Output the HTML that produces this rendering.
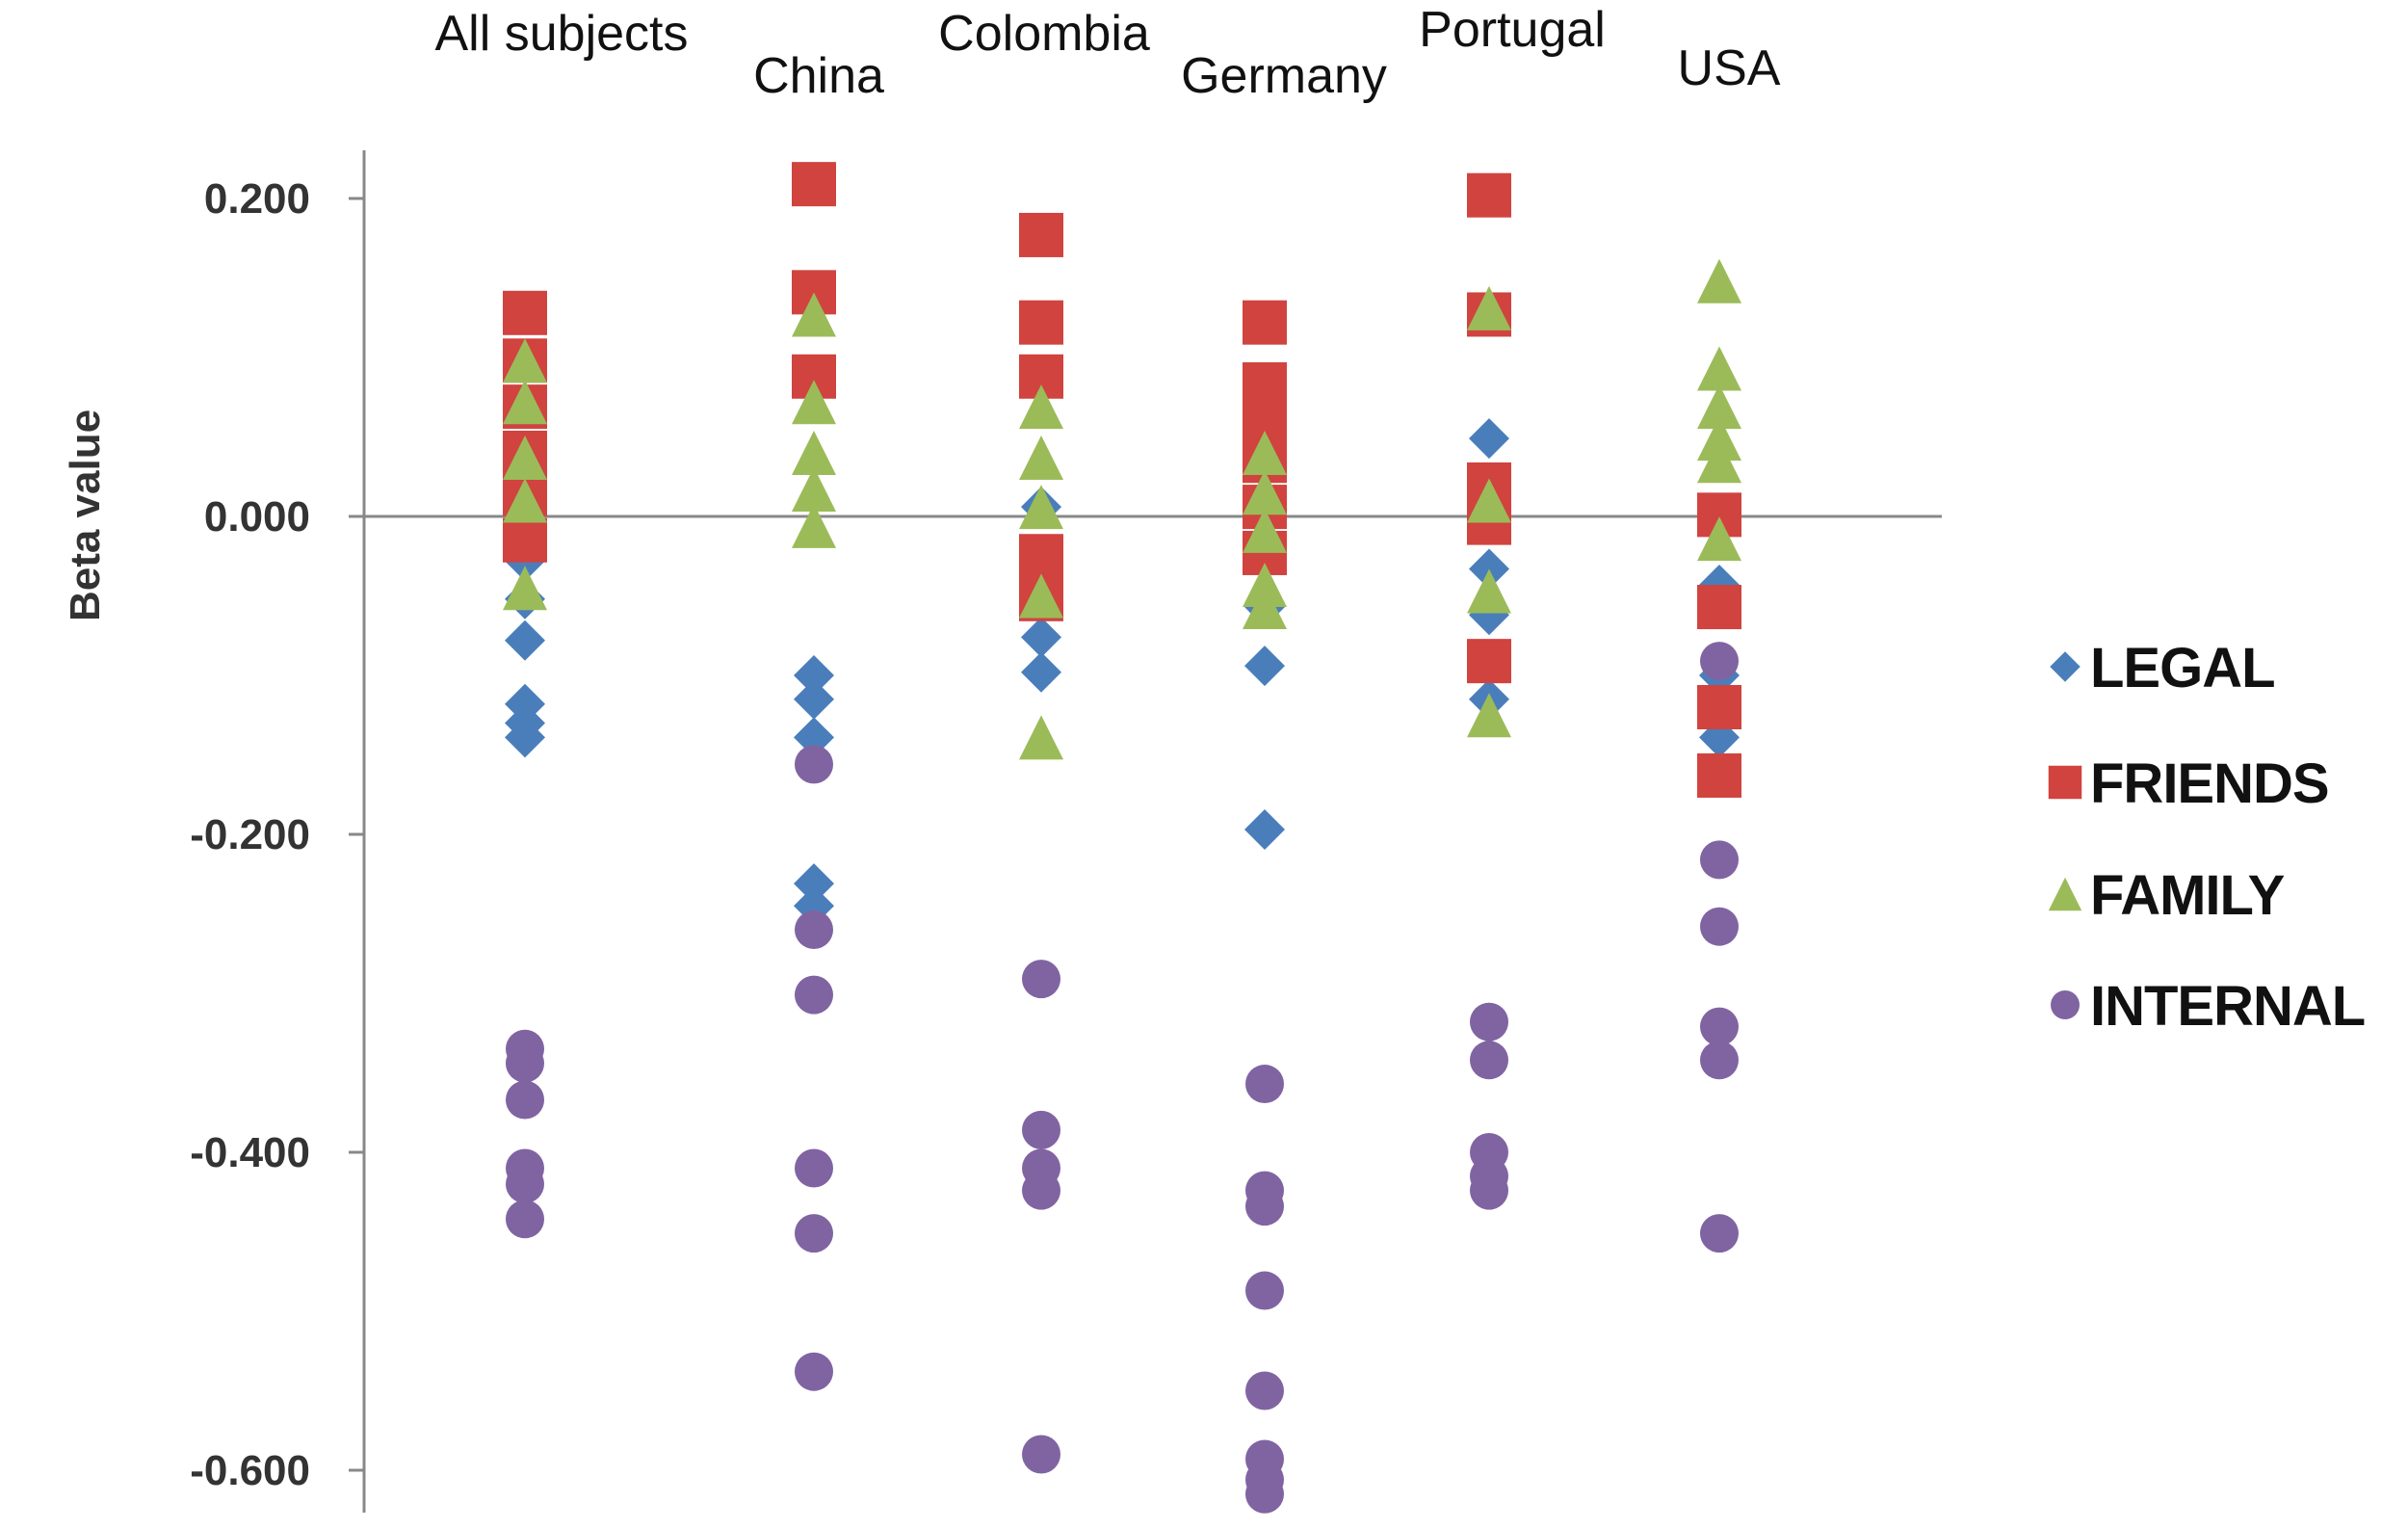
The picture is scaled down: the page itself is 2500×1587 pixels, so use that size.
<!DOCTYPE html>
<html><head><meta charset="utf-8"><style>
html,body{margin:0;padding:0;background:#fff;width:2500px;height:1587px;overflow:hidden}
svg text{font-family:"Liberation Sans",Arial,sans-serif}
</style></head><body>
<svg id="chart" width="2500" height="1587" viewBox="0 0 2500 1587" xmlns="http://www.w3.org/2000/svg">
<g id="axes"></g>
<g id="cats"></g>
<g id="marks"></g>
<g id="legend"></g>
<text transform="translate(103,535) rotate(-90)" text-anchor="middle" font-size="44" font-weight="bold" fill="#333">Beta value</text>
</svg>
<script>
const categories = ["All subjects","China","Colombia","Germany","Portugal","USA"];
const seriesNames = ["LEGAL","FRIENDS","FAMILY","INTERNAL"];
const legalValues = [
  [-0.028,-0.052,-0.078,-0.118,-0.130,-0.139],
  [-0.100,-0.115,-0.139,-0.231,-0.245],
  [0.006,-0.076,-0.098],
  [-0.057,-0.094,-0.197],
  [0.049,-0.033,-0.062,-0.115],
  [-0.043,-0.100,-0.139]
];
const friendsValues = [
  [0.128,0.098,0.069,0.040,0.014,-0.015],
  [0.209,0.141,0.088],
  [0.177,0.122,0.088,-0.025,-0.052],
  [0.122,0.083,0.059,0.035,0.006,-0.023],
  [0.202,0.127,0.020,-0.004,-0.091],
  [0.001,-0.057,-0.120,-0.163]
];
const familyValues = [
  [0.098,0.072,0.037,0.010,-0.045],
  [0.127,0.072,0.040,0.017,-0.006],
  [0.069,0.037,0.006,-0.050,-0.139],
  [0.040,0.015,-0.009,-0.043,-0.057],
  [0.131,0.010,-0.047,-0.125],
  [0.148,0.093,0.069,0.049,0.035,-0.014]
];
const internalValues = [
  [-0.335,-0.344,-0.367,-0.410,-0.420,-0.442],
  [-0.156,-0.260,-0.301,-0.410,-0.451,-0.538],
  [-0.291,-0.386,-0.410,-0.424,-0.590],
  [-0.357,-0.424,-0.434,-0.487,-0.550,-0.593,-0.606,-0.615],
  [-0.318,-0.342,-0.400,-0.415,-0.424],
  [-0.091,-0.216,-0.258,-0.321,-0.342,-0.451]
];
const yTicks = [0.2,0.0,-0.2,-0.4,-0.6];
const yTickLabels = ["0.200","0.000","-0.200","-0.400","-0.600"];

const NS="http://www.w3.org/2000/svg";
const colors=["#4a7ebb","#d0433f","#9bbb59","#8064a2"];
function y(v){ return 536 - v*1650; }
const catX=[545,845,1081,1313,1546,1785];
function x(i){ return catX[i]; }
function mk(tag,attrs,parent){const e=document.createElementNS(NS,tag);for(const k in attrs)e.setAttribute(k,attrs[k]);parent.appendChild(e);return e;}

const axes=document.getElementById('axes');
let e=mk('line',{x1:378,y1:156,x2:378,y2:1570,stroke:'#888','stroke-width':3},axes);


e=mk('line',{x1:378,y1:y(0),x2:2016,y2:y(0),stroke:'#888','stroke-width':3},axes);


yTicks.forEach((t,i)=>{
  const tk=mk('line',{x1:362,y1:y(t),x2:378,y2:y(t),stroke:'#888','stroke-width':3},axes);
  
  
  const tl=mk('text',{x:322,y:y(t)+15,'text-anchor':'end','font-size':44,'font-weight':'bold',fill:'#333'},axes);
  tl.textContent=yTickLabels[i];
  
  
});

const labelPos=[[583,52],[850,96],[1084,52],[1333,96],[1570,48],[1795,88]];
const cats=document.getElementById('cats');
categories.forEach((c,i)=>{
  const t=mk('text',{x:labelPos[i][0],y:labelPos[i][1],'text-anchor':'middle','font-size':52,fill:'#111'},cats);
  t.textContent=c;
  
  
});

function marker(s,cx,cy,parent,scale){
  const k=scale||1;let el;
  if(s===0){const r=21*k;el=mk('polygon',{points:`${cx},${cy-r} ${cx+r},${cy} ${cx},${cy+r} ${cx-r},${cy}`,fill:colors[0]},parent);}
  else if(s===1){const h=23*k;el=mk('rect',{x:cx-h,y:cy-h,width:2*h,height:2*h,fill:colors[1]},parent);}
  else if(s===2){const h=23*k;el=mk('polygon',{points:`${cx},${cy-h} ${cx+h},${cy+h} ${cx-h},${cy+h}`,fill:colors[2]},parent);}
  else {el=mk('circle',{cx:cx,cy:cy,r:20*k,fill:colors[3]},parent);}
  return el;
}
const all=[legalValues,friendsValues,familyValues,internalValues];
const marks=document.getElementById('marks');
const snames=['legal','friends','family','internal'];
all.forEach((ser,s)=>{
  const g=mk('g',{},marks);
  
  
  ser.forEach((vals,ci)=>{
    vals.forEach(v=>{
      const m=marker(s,x(ci),y(v),g);
      
      
    });
  });
});

const legend=document.getElementById('legend');
const legY=[692,812,928,1043];
seriesNames.forEach((n,i)=>{
  const g=mk('g',{},legend);
  
  
  marker(i,2144,legY[i],g,0.75);
  const t=mk('text',{x:2170,y:legY[i]+21,'font-size':58,fill:'#111','font-weight':'bold','letter-spacing':'-1'},g);
  t.textContent=n;
});
</script>
</body></html>
